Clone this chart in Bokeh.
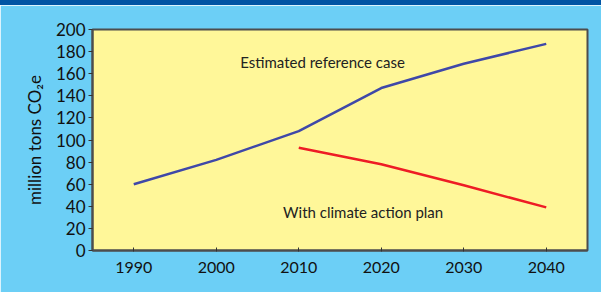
from bokeh.plotting import figure
from bokeh.models import Label, Div, FixedTicker, Range1d
from bokeh.layouts import column
from bokeh.embed import file_html
from bokeh.resources import INLINE

years_ref = [1990, 2000, 2010, 2020, 2030, 2040]
reference_case = [60, 82, 108, 147, 169, 187]
years_plan = [2010, 2020, 2030, 2040]
climate_plan = [93, 78, 59, 39]
x_ticks = [1990, 2000, 2010, 2020, 2030, 2040]
y_ticks = [0, 20, 40, 60, 80, 100, 120, 140, 160, 180, 200]

FONT = "Lato"
LIGHT_BLUE = "#6CCFF6"
DARK_BLUE = "#0054A4"

band = Div(text="", width=601, height=5, styles={"background-color": DARK_BLUE}, margin=0)

p = figure(output_backend="svg", toolbar_location=None,
           x_range=Range1d(1985, 2045), y_range=Range1d(0, 200),
           frame_width=495, frame_height=221,
           min_border_left=92, min_border_right=14, min_border_top=24, min_border_bottom=42,
           margin=0)
p.border_fill_color = LIGHT_BLUE
p.background_fill_color = "#FFF799"
p.outline_line_color = "#4D4D4D"
p.outline_line_width = 2
p.xgrid.visible = False
p.ygrid.visible = False

p.line(years_ref, reference_case, line_color="#3F48A8", line_width=2.5)
p.line(years_plan, climate_plan, line_color="#EE1C25", line_width=2.5)

for ax in (p.xaxis[0], p.yaxis[0]):
    ax.axis_line_color = "#4D4D4D"
    ax.axis_line_width = 2
    ax.major_tick_line_color = "#333333"
    ax.minor_tick_line_color = None
    ax.major_label_text_font = FONT
    ax.major_label_text_color = "#111111"

p.xaxis.major_tick_in = 3
p.xaxis.major_tick_out = 1
p.yaxis.major_tick_in = 0
p.yaxis.major_tick_out = 4
p.xaxis.major_label_text_font_size = "16px"
p.yaxis.major_label_text_font_size = "17px"
p.xaxis.ticker = FixedTicker(ticks=x_ticks)
p.yaxis.ticker = FixedTicker(ticks=y_ticks)
p.xaxis.major_label_standoff = 10
p.yaxis.major_label_standoff = 3
p.yaxis.axis_label = "million tons CO\u2082e"
p.yaxis.axis_label_text_font = FONT
p.yaxis.axis_label_text_font_size = "17px"
p.yaxis.axis_label_text_font_style = "normal"
p.yaxis.axis_label_text_color = "#111111"
p.yaxis.axis_label_standoff = 8

p.add_layout(Label(x=2002.9, y=170.4, text="Estimated reference case", text_font=FONT,
                   text_font_size="15px", text_color="#222222", text_baseline="middle"))
p.add_layout(Label(x=2008.1, y=34.7, text="With climate action plan", text_font=FONT,
                   text_font_size="15px", text_color="#222222", text_baseline="middle"))

layout = column(band, p, spacing=0)
open("out.html", "w").write(file_html(layout, INLINE))
